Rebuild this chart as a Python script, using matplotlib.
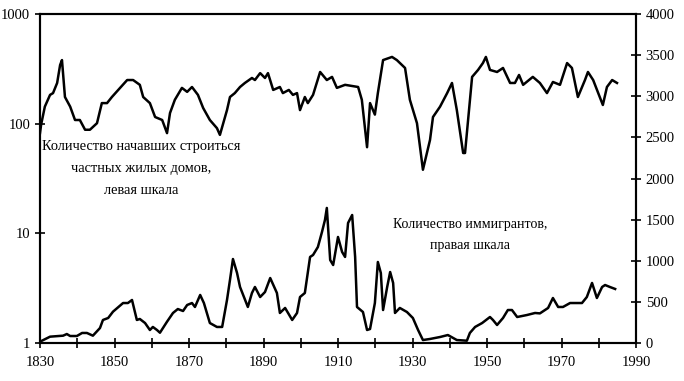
import matplotlib
matplotlib.use("Agg")
import matplotlib.pyplot as plt
from matplotlib.ticker import FixedLocator, NullLocator, FixedFormatter

# Housing starts (left, log scale)
house_years = [1830.0, 1830.3, 1831.3, 1832.7, 1833.5, 1834.6, 1835.4, 1835.9, 1836.7, 1838.1,
               1839.4, 1840.7, 1842.1, 1843.4, 1845.3, 1846.6, 1848.0, 1849.3, 1851.5, 1853.4,
               1855.0, 1856.8, 1857.7, 1859.5, 1860.9, 1862.8, 1864.1, 1864.9, 1866.2, 1868.1,
               1869.5, 1870.8, 1872.4, 1873.8, 1875.6, 1877.5, 1878.3, 1880.2, 1881.0, 1882.3,
               1883.7, 1885.0, 1886.9, 1887.7, 1889.1, 1890.4, 1891.2, 1892.6, 1894.4, 1895.2,
               1896.8, 1897.9, 1899.0, 1899.8, 1901.1, 1901.9, 1903.3, 1905.2, 1907.0, 1908.4,
               1909.7, 1911.9, 1915.4, 1916.4, 1917.8, 1918.6, 1919.9, 1920.7, 1922.1, 1924.5,
               1925.8, 1928.0, 1929.3, 1931.2, 1932.8, 1934.7, 1935.5, 1937.4, 1939.3, 1940.6,
               1941.9, 1943.6, 1944.1, 1946.0, 1947.6, 1948.9, 1949.7, 1950.8, 1952.7, 1954.3,
               1956.2, 1957.5, 1958.6, 1959.7, 1962.3, 1964.2, 1966.1, 1967.7, 1969.6, 1971.5,
               1972.8, 1974.4, 1976.3, 1977.1, 1978.5, 1981.1, 1982.2, 1983.6, 1984.9]
house_values = [82, 98, 143, 183, 190, 235, 343, 380, 175, 143,
                108, 108, 88, 88, 101, 154, 154, 175, 212, 250,
                250, 226, 175, 154, 115, 108, 82, 125, 165, 212,
                195, 216, 183, 139, 108, 91, 79, 133, 175, 190,
                216, 235, 261, 250, 289, 261, 289, 203, 216, 190,
                203, 183, 190, 133, 175, 154, 183, 296, 250, 267,
                212, 226, 216, 165, 61, 154, 121, 190, 380, 406,
                380, 322, 165, 101, 38, 71, 115, 143, 190, 235,
                133, 54, 54, 267, 309, 357, 406, 309, 296, 322,
                235, 235, 278, 226, 267, 235, 190, 240, 226, 357,
                322, 175, 250, 296, 250, 148, 216, 250, 235]

# Immigrants (right, linear scale)
imm_years = [1830.0, 1832.7, 1836.2, 1837.2, 1838.1, 1839.9, 1841.3, 1842.6, 1844.2, 1846.1,
             1846.9, 1848.3, 1849.6, 1852.3, 1853.6, 1854.7, 1856.0, 1856.8, 1858.2, 1859.5,
             1860.3, 1861.4, 1862.2, 1864.1, 1865.7, 1867.0, 1868.4, 1869.5, 1870.8, 1871.6,
             1873.0, 1874.0, 1875.6, 1877.5, 1878.9, 1880.2, 1881.0, 1881.8, 1882.9, 1883.7,
             1885.8, 1886.9, 1887.7, 1889.1, 1890.4, 1891.8, 1893.6, 1894.4, 1895.8, 1897.7,
             1899.0, 1899.8, 1901.1, 1902.5, 1903.3, 1904.6, 1905.7, 1906.5, 1907.0, 1907.9,
             1908.7, 1910.0, 1911.1, 1911.9, 1912.7, 1913.8, 1914.6, 1915.1, 1916.7, 1917.8,
             1918.6, 1919.9, 1920.7, 1921.5, 1922.1, 1923.2, 1924.0, 1924.8, 1925.3, 1926.6,
             1928.5, 1930.1, 1931.5, 1932.8, 1934.7, 1937.4, 1939.5, 1941.9, 1944.6, 1945.4,
             1946.8, 1948.7, 1950.8, 1951.6, 1952.7, 1954.3, 1955.6, 1956.7, 1958.1, 1960.7,
             1962.9, 1964.2, 1966.4, 1967.7, 1969.1, 1970.4, 1972.3, 1975.5, 1976.8, 1978.2,
             1979.5, 1980.9, 1981.7, 1983.0, 1984.4]
imm_values = [16, 77, 89, 109, 85, 85, 122, 122, 89, 182,
              280, 304, 381, 486, 486, 523, 280, 292, 243, 158,
              195, 158, 125, 259, 365, 413, 389, 462, 486, 438,
              584, 486, 243, 195, 195, 523, 766, 1021, 851, 681,
              438, 608, 681, 559, 620, 790, 608, 365, 426, 280,
              365, 559, 608, 1046, 1070, 1167, 1350, 1496, 1642, 1009,
              948, 1289, 1107, 1046, 1459, 1556, 1046, 438, 377, 158,
              170, 486, 985, 851, 401, 681, 863, 730, 365, 426,
              377, 304, 158, 36, 49, 73, 97, 36, 28, 122,
              195, 243, 316, 280, 219, 304, 401, 401, 316, 340,
              365, 360, 426, 547, 438, 438, 486, 486, 559, 730,
              547, 681, 705, 681, 657]

x_ticks = list(range(1830, 1991, 10))
x_labels = ["1830", "", "1850", "", "1870", "", "1890", "", "1910", "", "1930", "", "1950", "", "1970", "", "1990"]
left_ticks = [1, 10, 100, 1000]
left_labels = ["1", "10", "100", "1000"]
right_ticks = [0, 500, 1000, 1500, 2000, 2500, 3000, 3500, 4000]

label_house = "Количество начавших строиться\nчастных жилых домов,\nлевая шкала"
label_imm = "Количество иммигрантов,\nправая шкала"

plt.rcParams['font.family'] = ['Liberation Serif', 'DejaVu Serif']

W, H = 684, 381
fig = plt.figure(figsize=(W / 100, H / 100), dpi=100)
ax = fig.add_axes([40 / W, 1 - 343 / H, (636 - 40) / W, (343 - 14) / H])
ax2 = ax.twinx()

ax.plot(house_years, house_values, color="black", lw=1.8)
ax.set_yscale("log")
ax.set_ylim(1, 1000)
ax.set_xlim(1830, 1990)
ax.yaxis.set_major_locator(FixedLocator(left_ticks))
ax.yaxis.set_major_formatter(FixedFormatter(left_labels))
ax.yaxis.set_minor_locator(NullLocator())
ax.set_xticks(x_ticks)
ax.set_xticklabels(x_labels)

ax2.plot(imm_years, imm_values, color="black", lw=1.8)
ax2.set_ylim(0, 4000)
ax2.set_yticks(right_ticks)

for a in (ax, ax2):
    for s in a.spines.values():
        s.set_linewidth(1.5)
        s.set_color("black")
    a.tick_params(direction="inout", length=7, width=1.2, labelsize=10.5, colors="black")
ax.tick_params(axis="x", pad=6)

ax.text(1857.2, 71, label_house, ha="center", va="top", fontsize=10.4, linespacing=1.9)
ax2.text(1945.4, 1110, label_imm, ha="center", va="bottom", fontsize=10, linespacing=1.75)

fig.savefig("out.png", dpi=100)
